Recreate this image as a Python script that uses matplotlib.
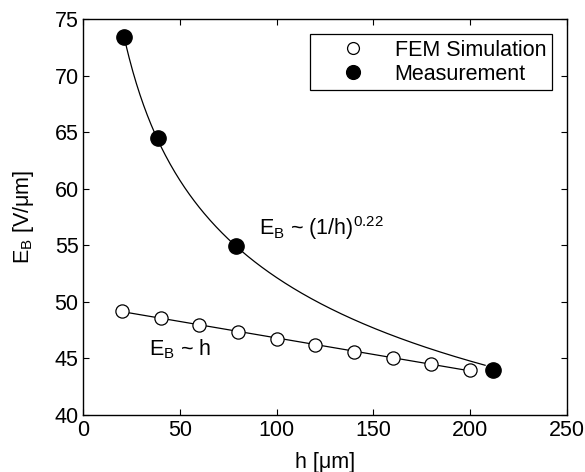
import numpy as np
import matplotlib
matplotlib.use("Agg")
import matplotlib.pyplot as plt

plt.rcParams["font.family"] = "Liberation Sans"
plt.rcParams["mathtext.fontset"] = "custom"
plt.rcParams["mathtext.rm"] = "Liberation Sans"
plt.rcParams["mathtext.it"] = "Liberation Sans"

# FEM simulation (open circles)
fem_h = [20, 40, 60, 80, 100, 120, 140, 160, 180, 200]
fem_e = [49.23, 48.6, 47.96, 47.34, 46.75, 46.19, 45.6, 45.07, 44.51, 43.98]

# measurement (filled circles)
meas_h = [21.2, 38.8, 79.0, 211.8]
meas_e = [73.4, 64.47, 54.98, 43.98]

EXPONENT = 0.22
FS = 15.5

fig = plt.figure(figsize=(5.85, 4.72), dpi=100)
ax = fig.add_axes([0.1425, 0.1208, 0.8262, 0.8382])

# linear fit through the FEM points
k, b = np.polyfit(fem_h, fem_e, 1)
hl = np.array([fem_h[0], fem_h[-1]])
ax.plot(hl, k * hl + b, color="black", lw=0.9, zorder=1)

# E ~ (1/h)^0.22 fit through the measurements
mh = np.array(meas_h)
a = np.exp(np.mean(np.log(meas_e) + EXPONENT * np.log(mh)))
hc = np.linspace(mh[0], mh[-1] - 4, 300)
ax.plot(hc, a * hc ** (-EXPONENT), color="black", lw=0.9, zorder=1)

ax.plot(fem_h, fem_e, "o", ms=9.5, mfc="white", mec="black", mew=0.9,
        ls="none", label="FEM Simulation", zorder=3)
ax.plot(meas_h, meas_e, "o", ms=11, mfc="black", mec="black",
        ls="none", label="Measurement", zorder=3)

ax.text(91, 56.5, r"E$_\mathregular{B}$ ~ (1/h)$^\mathregular{0.22}$",
        fontsize=FS, va="center", ha="left")
ax.text(34, 45.8, r"E$_\mathregular{B}$ ~ h", fontsize=FS,
        va="center", ha="left")

ax.set_xlim(0, 250)
ax.set_ylim(40, 75)
ax.set_xticks([0, 50, 100, 150, 200, 250])
ax.set_yticks([40, 45, 50, 55, 60, 65, 70, 75])
ax.tick_params(direction="in", top=True, right=True, labelsize=FS,
               length=4, width=0.8)
for s in ax.spines.values():
    s.set_linewidth(1.0)

ax.set_xlabel("h [\u03bcm]", fontsize=FS, labelpad=8)
ax.set_ylabel("E$_\\mathregular{B}$ [V/\u03bcm]", fontsize=FS, labelpad=13)

leg = ax.legend(loc="upper right", fontsize=FS, frameon=True, fancybox=False,
                edgecolor="black", framealpha=1, handletextpad=0.2,
                handlelength=3.5, borderpad=0.25, labelspacing=0.15,
                borderaxespad=0.7, markerscale=0.9)
leg.get_frame().set_linewidth(0.9)

fig.savefig("out.png", dpi=100)
